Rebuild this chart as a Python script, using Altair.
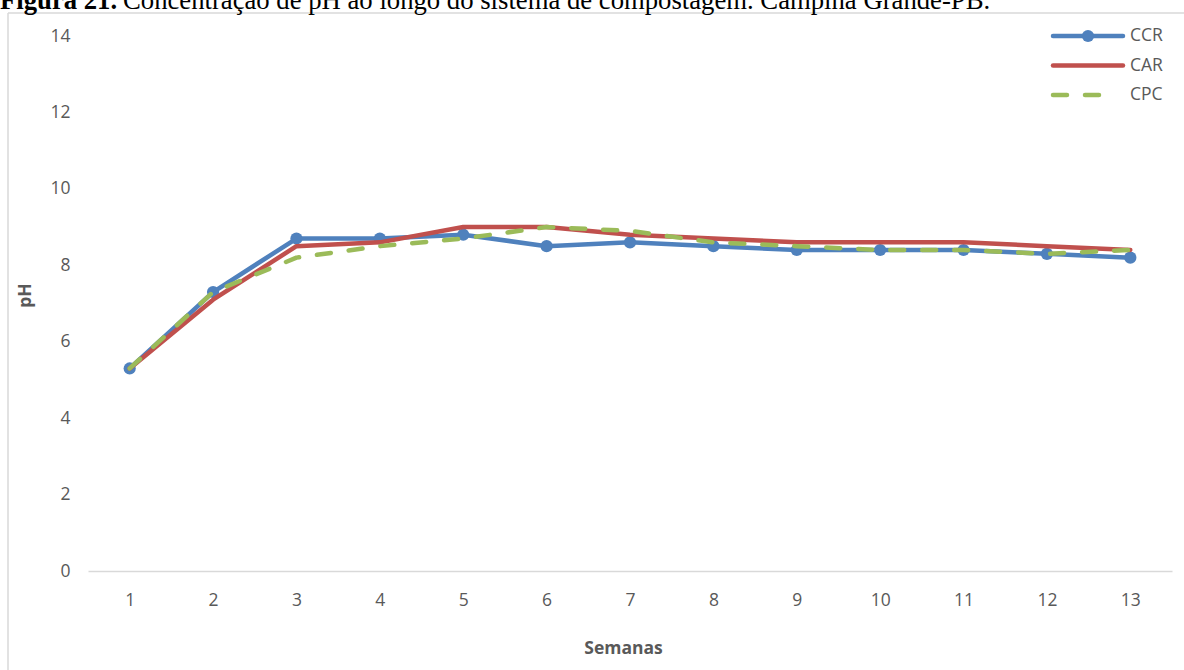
import altair as alt
import pandas as pd

# Weekly pH readings for the three composting treatments
WEEKS = [1, 2, 3, 4, 5, 6, 7, 8, 9, 10, 11, 12, 13]
CCR = [5.3, 7.3, 8.7, 8.7, 8.8, 8.5, 8.6, 8.5, 8.4, 8.4, 8.4, 8.3, 8.2]
CAR = [5.3, 7.1, 8.5, 8.6, 9.0, 9.0, 8.8, 8.7, 8.6, 8.6, 8.6, 8.5, 8.4]
CPC = [5.3, 7.3, 8.2, 8.5, 8.7, 9.0, 8.9, 8.6, 8.5, 8.4, 8.4, 8.3, 8.4]
SERIES = ["CCR", "CAR", "CPC"]
Y_TICKS = [0, 2, 4, 6, 8, 10, 12, 14]

TITLE_BOLD = "Figura 21."
TITLE_REST = "Concentração de pH ao longo do sistema de compostagem. Campina Grande-PB."
X_TITLE = "Semanas"
Y_TITLE = "pH"

# Styling
COLORS = {"CCR": "#4F81BD", "CAR": "#C0504D", "CPC": "#9BBB59"}
DASHED = {"CPC": [14, 18]}
LINE_W = 4.5
TEXT_GRAY = "#595959"
FRAME_GRAY = "#D9D9D9"
FONT = "Open Sans"
FS = 17.5

# Layout (plot area and outer padding, in pixels)
PLOT_W, PLOT_H = 1084, 535
PAD = {"left": 88, "top": 36, "right": 12, "bottom": 99}

values = {"CCR": CCR, "CAR": CAR, "CPC": CPC}
df = pd.DataFrame(
    [{"week": w, "series": s, "ph": v} for s in SERIES for w, v in zip(WEEKS, values[s])]
)

x_enc = alt.X(
    "week:O",
    scale=alt.Scale(type="point", domain=WEEKS, padding=0.5),
    axis=alt.Axis(
        title=X_TITLE,
        labelAngle=0,
        ticks=False,
        grid=False,
        domainColor=FRAME_GRAY,
        domainWidth=1.5,
        labelPadding=20,
        labelFont=FONT,
        labelFontSize=FS,
        labelColor=TEXT_GRAY,
        titleFont=FONT,
        titleFontSize=FS,
        titleFontWeight="bold",
        titleColor=TEXT_GRAY,
        titleX=535,
        titleY=77,
        titleBaseline="middle",
        titleAlign="center",
    ),
)
y_enc = alt.Y(
    "ph:Q",
    scale=alt.Scale(domain=[0, 14], nice=False, zero=True),
    axis=alt.Axis(
        title=Y_TITLE,
        values=Y_TICKS,
        domain=False,
        ticks=False,
        grid=False,
        labelPadding=18,
        labelFont=FONT,
        labelFontSize=FS,
        labelColor=TEXT_GRAY,
        titleFont=FONT,
        titleFontSize=FS,
        titleFontWeight="bold",
        titleColor=TEXT_GRAY,
        titleAngle=270,
        titleX=-63,
        titleY=259,
        titleBaseline="middle",
        titleAlign="center",
    ),
)

base = alt.Chart(df)
layers = []

# Outer chart frame (left and top edges)
one = pd.DataFrame({"k": [0]})
layers.append(
    alt.Chart(one).mark_rule(color=FRAME_GRAY, strokeWidth=1.5).encode(
        x=alt.value(-80), y=alt.value(-23), y2=alt.value(PLOT_H + PAD["bottom"])
    )
)
layers.append(
    alt.Chart(one).mark_rule(color=FRAME_GRAY, strokeWidth=1.5).encode(
        x=alt.value(-80), x2=alt.value(PLOT_W + PAD["right"]), y=alt.value(-23)
    )
)

# Series lines, drawn in order so later series sit on top
for s in SERIES:
    kw = dict(color=COLORS[s], strokeWidth=LINE_W, strokeCap="round", strokeJoin="round")
    if s in DASHED:
        kw["strokeDash"] = DASHED[s]
    layers.append(
        base.transform_filter(alt.datum.series == s).mark_line(**kw).encode(x=x_enc, y=y_enc)
    )
    if s == "CCR":
        layers.append(
            base.transform_filter(alt.datum.series == s)
            .mark_circle(color=COLORS[s], size=150, opacity=1)
            .encode(x=x_enc, y=y_enc)
        )

# Legend (top right); the dashed key shows two whole dashes
LEG_X0, LEG_X1, LEG_TX, LEG_Y0, LEG_STEP = 965, 1035, 1042, 0, 29.5
LEG_END = {"CPC": 1013}
for i, s in enumerate(SERIES):
    row = pd.DataFrame({"series": [s]})
    ly = LEG_Y0 + i * LEG_STEP
    kw = dict(color=COLORS[s], strokeWidth=LINE_W, strokeCap="round")
    if s in DASHED:
        kw["strokeDash"] = DASHED[s]
    layers.append(
        alt.Chart(row).mark_rule(**kw).encode(
            x=alt.value(LEG_X0), x2=alt.value(LEG_END.get(s, LEG_X1)), y=alt.value(ly)
        )
    )
    if s == "CCR":
        layers.append(
            alt.Chart(row).mark_circle(color=COLORS[s], size=150, opacity=1).encode(
                x=alt.value((LEG_X0 + LEG_X1) / 2), y=alt.value(ly)
            )
        )
    layers.append(
        alt.Chart(row)
        .mark_text(align="left", baseline="middle", font=FONT, fontSize=FS, color=TEXT_GRAY)
        .encode(x=alt.value(LEG_TX), y=alt.value(ly), text="series:N")
    )

# Figure caption above the chart frame
cap = pd.DataFrame({"bold": [TITLE_BOLD], "rest": [TITLE_REST]})
layers.append(
    alt.Chart(cap)
    .mark_text(align="left", baseline="alphabetic", font="Liberation Serif",
               fontSize=26.7, fontWeight="bold", color="black")
    .encode(x=alt.value(-88), y=alt.value(-27), text="bold:N")
)
layers.append(
    alt.Chart(cap)
    .mark_text(align="left", baseline="alphabetic", font="Liberation Serif",
               fontSize=26.7, color="black")
    .encode(x=alt.value(-88 + 123), y=alt.value(-27), text="rest:N")
)

chart = (
    alt.layer(*layers)
    .properties(
        width=PLOT_W,
        height=PLOT_H,
        padding=PAD,
        autosize=alt.AutoSizeParams(type="none"),
        background="white",
    )
    .configure_view(strokeWidth=0)
)

chart.save("out.html", embed_options={"renderer": "svg", "actions": False})
